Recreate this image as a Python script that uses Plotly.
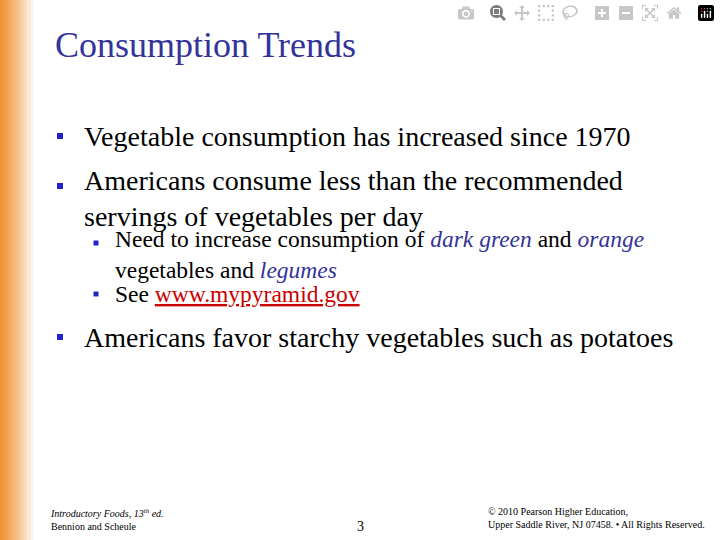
import plotly.graph_objs as go

title = "Consumption Trends"
main_items = ["Vegetable consumption has increased since 1970",
              "Americans consume less than the recommended<br>servings of vegetables per day",
              "Americans favor starchy vegetables such as potatoes"]
main_y = [136, 198, 337]
sub_items = ["Need to increase consumption of <i><span style='color:#333399'>dark green</span></i> and "
             "<i><span style='color:#333399'>orange</span></i><br>vegetables and <i><span style='color:#333399'>legumes</span></i>",
             "See <span style='color:#cc0000'><u>www.mypyramid.gov</u></span>"]
sub_y = [254, 294]
main_bullet_y = [136, 186, 337]
sub_bullet_y = [243, 294]

fig = go.Figure()
# orange gradient strip on the left
steps = 24
for i in range(steps):
    a = 1 - i / steps
    fig.add_shape(type="rect", x0=i * 1.4, x1=(i + 1) * 1.4 + 0.3, y0=0, y1=540,
                  fillcolor="#f08a24", opacity=a * 0.95, line_width=0, layer="below")

fig.add_trace(go.Scatter(x=[60] * 3, y=main_bullet_y, mode="markers",
                         marker=dict(symbol="square", size=6, color="#2222cc")))
fig.add_trace(go.Scatter(x=[96] * 2, y=sub_bullet_y, mode="markers",
                         marker=dict(symbol="square", size=5, color="#2222cc")))

font = "Liberation Serif"
fig.add_annotation(x=53, y=45, text=title, font=dict(family=font, size=36, color="#333399"))
for t, y in zip(main_items, main_y):
    fig.add_annotation(x=82, y=y, text=t, font=dict(family=font, size=28, color="black"))
for t, y in zip(sub_items, sub_y):
    fig.add_annotation(x=113, y=y, text=t, font=dict(family=font, size=23.5, color="black"))
fig.add_annotation(x=48, y=519, text="<i>Introductory Foods, 13<sup>th</sup> ed.</i><br>Bennion and Scheule",
                   font=dict(family=font, size=10, color="black"))
fig.add_annotation(x=360, y=526, text="3", xanchor="center", font=dict(family=font, size=14, color="black"))
fig.add_annotation(x=707, y=518, text="© 2010 Pearson Higher Education,<br>Upper Saddle River, NJ 07458. • All Rights Reserved.",
                   xanchor="right", align="right", font=dict(family=font, size=10, color="black"))
fig.update_annotations(showarrow=False, xref="x", yref="y", yanchor="middle", align="left")
for a in fig.layout.annotations:
    if a.xanchor is None:
        a.xanchor = "left"

fig.update_xaxes(range=[0, 720], visible=False)
fig.update_yaxes(range=[540, 0], visible=False)
fig.update_layout(width=720, height=540, margin=dict(l=0, r=0, t=0, b=0),
                  plot_bgcolor="white", paper_bgcolor="white", showlegend=False)
fig.write_html("out.html", post_script="document.body.style.margin='0';")
